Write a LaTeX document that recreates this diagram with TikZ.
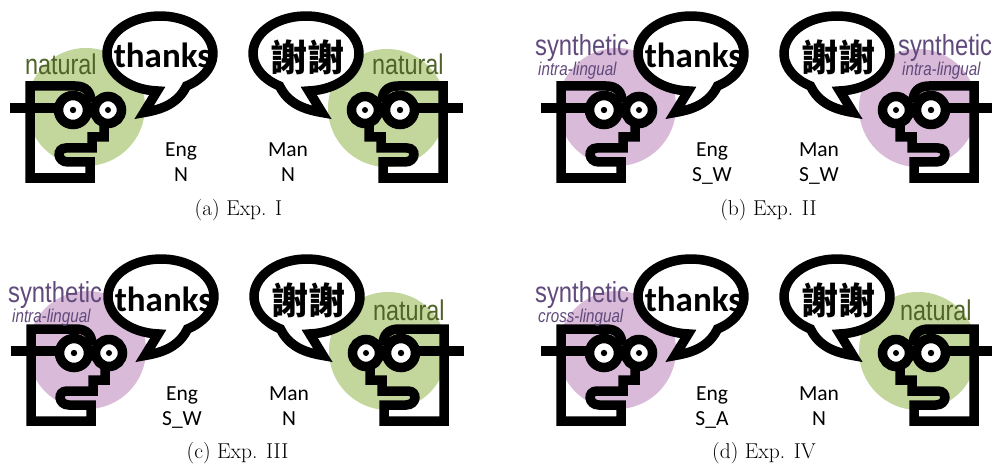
\documentclass[tikz,border=0pt]{standalone}
\usepackage{fontspec}
\newfontfamily\calibri{Carlito}
\newfontfamily\narrow[FakeStretch=0.82]{Liberation Sans}
\newfontfamily\cjk{Noto Sans CJK SC}
\definecolor{natgreen}{RGB}{195,214,155}
\definecolor{nattext}{RGB}{79,98,40}
\definecolor{synpurple}{RGB}{217,186,217}
\definecolor{syntext}{RGB}{96,74,123}
\begin{document}
\begin{tikzpicture}[x=1pt,y=-1pt,
  faceline/.style={line width=9.5pt, line join=miter},
  bubbleline/.style={line width=9.5pt, line join=miter, fill=white},
  face/.pic={
    % temple of the glasses
    \draw[faceline] (10,108) -- (60,108);
    % profile: nose steps, mouth, chin, neck and back of the head
    \draw[faceline] (104,122) -- (104,137) -- (92,137) -- (92,148) -- (66,148)
      .. controls (56,148) and (57,162) .. (68,162) -- (90,162) -- (90,178)
      -- (30,178) -- (30,86) -- (75,86) .. controls (86,86) and (91,92) .. (91,102);
    % lenses and pupils
    \draw[faceline, fill=white] (73,110) circle[radius=14.5];
    \draw[faceline, fill=white] (108,110) circle[radius=13.5];
    \fill (73,110) circle[radius=3.2];
    \fill (108,110) circle[radius=3];
  },
  bubble/.pic={
    \draw[bubbleline] (93:53 and 37.5) arc[start angle=93, end angle=420, x radius=53, y radius=37.5]
      .. controls (18,50) and (2,56) .. (-16,59) -- cycle;
  },
  said/.style={font=\calibri\bfseries\fontsize{35}{36}\selectfont, inner sep=0, anchor=base},
  saidzh/.style={font=\cjk\bfseries\fontsize{37}{38}\selectfont, inner sep=0, anchor=center},
  tagtext/.style={font=\calibri\fontsize{21.5}{25}\selectfont, anchor=base, inner sep=0},
  natlabel/.style={font=\narrow\fontsize{28.5}{30}\selectfont, text=nattext, anchor=base west, inner sep=0},
  synlabel/.style={font=\narrow\fontsize{29}{30}\selectfont, text=syntext, anchor=base west, inner sep=0},
  sublabel/.style={font=\narrow\itshape\fontsize{18.5}{20}\selectfont, text=syntext, anchor=base west, inner sep=0},
  captext/.style={font=\fontsize{21.5}{24}\selectfont, anchor=base, inner sep=0},
]
\useasboundingbox (0,0) rectangle (992,465);

% ---------- (a) ----------
\begin{scope}
  \fill[natgreen] (86,107) circle[radius=59];
  \fill[natgreen] (387,108) circle[radius=59];
  \pic at (0,0) {face};
  \pic[xscale=-1] at (473,0) {face};
  \pic at (160,53.5) {bubble};
  \pic[xscale=-1] at (306,53.5) {bubble};
  \node[said] (a-en) at (162.5,68) {thanks};
  \node[saidzh] (a-zh) at (307,57.5) {謝謝};
  \node[natlabel] (a-ll) at (25,75) {natural};
  \node[natlabel] (a-rl) at (372,75) {natural};
  \node[tagtext] (a-lang1) at (181,157) {Eng};
  \node[tagtext] (a-kind1) at (181,182) {N};
  \node[tagtext] (a-lang2) at (288,157) {Man};
  \node[tagtext] (a-kind2) at (288,182) {N};
  \node[captext] (a-cap) at (238.5,215) {(a) Exp. I};
\end{scope}

% ---------- (b) ----------
\begin{scope}[shift={(531,0)}]
  \fill[synpurple] (86,107) circle[radius=59];
  \fill[synpurple] (387,108) circle[radius=59];
  \pic at (0,0) {face};
  \pic[xscale=-1] at (473,0) {face};
  \pic at (160,53.5) {bubble};
  \pic[xscale=-1] at (306,53.5) {bubble};
  \node[said] (b-en) at (162.5,68) {thanks};
  \node[saidzh] (b-zh) at (307,57.5) {謝謝};
  \node[synlabel] (b-ll) at (4,56) {synthetic};
  \node[sublabel] (b-ls) at (7,76) {intra-lingual};
  \node[synlabel] (b-rl) at (367,56) {synthetic};
  \node[sublabel] (b-rs) at (371,76) {intra-lingual};
  \node[tagtext] (b-lang1) at (181,157) {Eng};
  \node[tagtext] (b-kind1) at (181,182) {S\_W};
  \node[tagtext] (b-lang2) at (288,157) {Man};
  \node[tagtext] (b-kind2) at (288,182) {S\_W};
  \node[captext] (b-cap) at (237.5,215) {(b) Exp. II};
\end{scope}

% ---------- (c) ----------
\begin{scope}[shift={(1,243)}]
  \fill[synpurple] (86,107) circle[radius=59];
  \fill[natgreen] (387,108) circle[radius=59];
  \pic at (0,0) {face};
  \pic[xscale=-1] at (473,0) {face};
  \pic at (160,53.5) {bubble};
  \pic[xscale=-1] at (306,53.5) {bubble};
  \node[said] (c-en) at (162.5,68) {thanks};
  \node[saidzh] (c-zh) at (307,57.5) {謝謝};
  \node[synlabel] (c-ll) at (7,59) {synthetic};
  \node[sublabel] (c-ls) at (11,79) {intra-lingual};
  \node[natlabel] (c-rl) at (372,77) {natural};
  \node[tagtext] (c-lang1) at (181,157) {Eng};
  \node[tagtext] (c-kind1) at (181,182) {S\_W};
  \node[tagtext] (c-lang2) at (288,157) {Man};
  \node[tagtext] (c-kind2) at (288,182) {N};
  \node[captext] (c-cap) at (236.5,215) {(c) Exp. III};
\end{scope}

% ---------- (d) ----------
\begin{scope}[shift={(531,243)}]
  \fill[synpurple] (86,107) circle[radius=59];
  \fill[natgreen] (387,108) circle[radius=59];
  \pic at (0,0) {face};
  \pic[xscale=-1] at (473,0) {face};
  \pic at (160,53.5) {bubble};
  \pic[xscale=-1] at (306,53.5) {bubble};
  \node[said] (d-en) at (162.5,68) {thanks};
  \node[saidzh] (d-zh) at (307,57.5) {謝謝};
  \node[synlabel] (d-ll) at (4,59) {synthetic};
  \node[sublabel] (d-ls) at (7,79) {cross-lingual};
  \node[natlabel] (d-rl) at (369,77) {natural};
  \node[tagtext] (d-lang1) at (181,157) {Eng};
  \node[tagtext] (d-kind1) at (181,182) {S\_A};
  \node[tagtext] (d-lang2) at (288,157) {Man};
  \node[tagtext] (d-kind2) at (288,182) {N};
  \node[captext] (d-cap) at (233,215) {(d) Exp. IV};
\end{scope}
\end{tikzpicture}
\end{document}
